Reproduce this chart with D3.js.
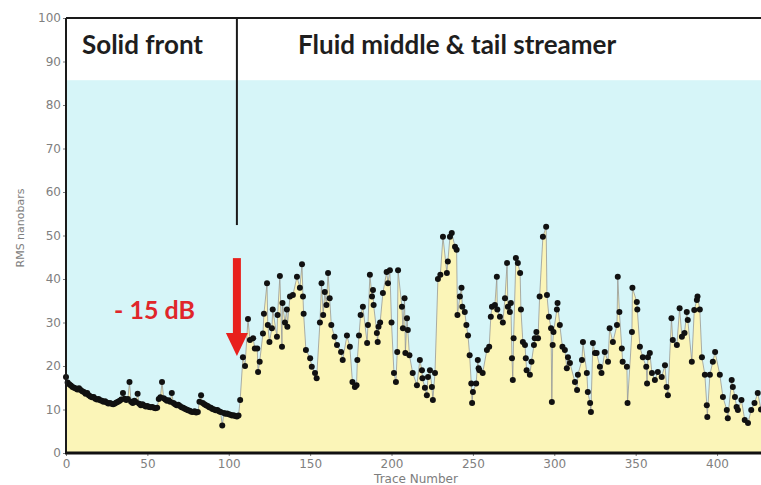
<!DOCTYPE html>
<html><head><meta charset="utf-8">
<script src="https://cdn.jsdelivr.net/npm/d3@7"></script>
<style>html,body{margin:0;padding:0;background:#fff;}svg{display:block;}</style>
</head><body>
<svg id="chart" width="761" height="485"></svg>
<script>
// ---- data ----
const solidRms = [17.5,16.2,15.8,15.5,15.2,15.0,14.8,14.6,14.9,14.5,
14.2,14.0,13.6,13.8,13.3,13.0,12.8,12.9,12.5,12.3,
12.4,12.1,12.0,11.8,11.9,11.6,11.4,11.5,11.3,11.2,
11.4,11.6,11.8,12.0,12.3,13.8,12.5,12.2,12.4,16.3,
11.8,11.5,12.0,11.7,13.6,11.3,11.0,11.2,10.9,10.7,
10.8,10.6,10.5,10.6,10.4,10.3,10.4,12.4,12.8,16.3,
12.6,12.3,12.0,12.1,11.8,13.8,11.5,11.2,11.0,11.1,
10.8,10.5,10.4,10.2,10.0,9.8,9.7,9.5,9.4,9.6,
9.3,9.4,11.8,13.3,11.5,11.2,11.0,10.8,10.5,10.4,
10.1,10.0,9.8,9.9,9.6,9.4,6.3,9.2,9.0,9.1,
8.9,8.8,8.6,8.7,8.5,8.4,8.6,12.2];

const fluidTrace = [108.7,110,111.8,113,115,116,117.5,118,119,121,121.6,123.5,124,125,126.5,127,129.6,130,131.4,132.7,
133,134.5,135.7,136,137.6,139.4,141.9,143.7,145,145.6,146,147.4,150,151,153,154,156,157,158,159,
160,161,162,163,165,166.5,169,170,172.6,174.4,176,177.5,178.5,179,180,181,182.4,185,185.5,186.7,
188,188.6,189,191,191.5,192,193,194.7,197,197.8,199,200,201.5,202.7,203.5,204,206.4,207,208,208.5,
209.5,210,211,213,215.6,217.4,218.7,219,220.5,221.7,222.4,223.6,224.8,225.4,226.7,228.5,230,231.6,234,234.6,
235.9,237,239,240,240.5,242,243,243.5,245,246,247,248,249,249.5,250,252,253,253.5,254,256,
258.6,260,261,261.7,263.5,264.7,265,266.6,268.4,269.7,271,271.5,272.7,273.3,274,274.5,275,276.4,277.6,279,
279.5,280.7,282,282.5,283,285,286,287.5,288,289,290,291,293,295,295.5,296.7,298,298.5,299,299.5,
301.6,302,303.4,305,306.5,307.7,308.4,309.6,312.7,314,314.5,317,317.6,320,320.6,322,322.5,323.7,325,326,
328,329,331,333,334,336,338.5,339,340,341.5,342,344.6,345,347.7,348,350.7,351,352.6,354.4,356.5,
357,357.5,358.7,360,361.8,363.6,366,368,369,369.8,372,372.8,375.3,377,378.4,380,381.4,382,384.5,386,
387.6,388,389.4,390.7,392.5,393.7,394,395.6,397.4,398.8,401.7,403.6,406,406.6,409,409.7,411,412,412.8,415,
417,419,421,423,425,427];

const fluidRms = [22,20,30.8,26,26.4,24,24,18.6,21,27.5,32,39,29.4,25.5,28.7,33,26.7,31.7,40.7,24.4,
34.5,30,33,29,36,36.3,40.5,38,43.4,36,32,23.7,21.8,19.8,18.4,17.2,30,39,31.7,37,
34,41.4,35.6,29.4,26.7,24.8,23.2,21.4,27,24.4,16.3,15.2,15.6,21.4,27,31.7,33.6,25.3,29.4,41,
36,37.5,34,27.6,25.5,29,30,36.8,41.6,39,42,30,18.4,16.3,23.2,42,33.6,28.7,35.6,23,
31,28.3,22.5,18.4,15.6,21.4,19,17.2,15,13.3,17.5,19,15.2,12.2,18.4,40,41,49.7,41.4,44,
49.7,50.6,47.4,46.7,31.7,36,38,33.6,32.4,29.4,27,22.5,16,11.5,14,16,21.4,19.5,19,18.4,
23.7,24.4,31.3,33.6,34,40.5,33,31.3,30,35.6,43.7,33.6,32.4,34.5,21.8,16.8,26.4,44.8,43.7,41.4,
33,25.5,24.8,21.8,19,18,21,24.8,26.4,27.8,26.4,36,49.7,52,36.3,31.3,28.7,11.7,24.8,27.8,
33,34.5,29.4,24.4,23.7,19.5,22,20.7,16.3,14.5,18,21.4,25.5,18.4,14,11.5,9.4,25.3,23,23,
19.8,18.4,23.2,21,28.7,25.5,29.4,40.5,32.4,24,21,19.8,11.5,27.8,38,34.7,33,24.4,22,19.8,
16,22,23,18.4,16.8,18.6,17.5,20.2,15.2,13.3,31,26,24.8,33.3,26.7,27.6,32.4,30.6,21,32.9,
35.2,36,33,22,18,11,8.3,18,21,23.2,18,12.9,9.9,8,16.8,15.2,12.9,10.6,9.9,12.2,
7.6,6.9,9.9,11.5,13.8,10];

const xTickValues = [0,50,100,150,200,250,300,350,400];
const yTickValues = [0,10,20,30,40,50,60,70,80,90,100];
const regionLabels = ["Solid front", "Fluid middle & tail streamer"];
const annotationText = "- 15 dB";
const xTitle = "Trace Number";
const yTitle = "RMS nanobars";
const dividerTrace = 105;      // boundary between regions
const dividerBottom = 52.4;    // where the divider line stops
const headerLevel = 85.7;      // top of the blue band
const arrowTop = 44.8, arrowTip = 22.3;

// ---- layout ----
const svg = d3.select("#chart");
const x = d3.scaleLinear().domain([0, 427]).range([66, 761]);
const y = d3.scaleLinear().domain([0, 100]).range([453, 18]);

const points = solidRms.map((v, i) => ({t: i, v}))
  .concat(fluidTrace.map((t, i) => ({t, v: fluidRms[i]})));

// blue band
svg.append("rect").attr("x", x(0)).attr("y", y(headerLevel))
  .attr("width", x(427) - x(0)).attr("height", y(0) - y(headerLevel))
  .attr("fill", "#d6f5f8");

// yellow area under the data
svg.append("path").datum(points)
  .attr("fill", "#fbf5b8")
  .attr("d", d3.area().x(d => x(d.t)).y0(y(0)).y1(d => y(d.v)));

// connecting line
svg.append("path").datum(points)
  .attr("fill", "none").attr("stroke", "#8c8c8c").attr("stroke-width", 0.7)
  .attr("d", d3.line().x(d => x(d.t)).y(d => y(d.v)));

// dots
svg.append("g").selectAll("circle").data(points).join("circle")
  .attr("cx", d => x(d.t)).attr("cy", d => y(d.v)).attr("r", 3)
  .attr("fill", "#111");

// axes
const axisColor = "#7a7a7a";
const yAxis = svg.append("g").attr("transform", `translate(${x(0)},0)`)
  .call(d3.axisLeft(y).tickValues(yTickValues).tickSize(3).tickPadding(2));
const xAxis = svg.append("g").attr("transform", `translate(0,${y(0)})`)
  .call(d3.axisBottom(x).tickValues(xTickValues).tickSize(3).tickPadding(3));
[xAxis, yAxis].forEach(g => {
  g.select(".domain").remove();
  g.selectAll(".tick line").attr("stroke", axisColor);
  g.selectAll(".tick text").attr("fill", "#808080")
    .style("font-family", "DejaVu Sans").style("font-size", "12px");
});

// frame lines
svg.append("line").attr("x1", x(0)).attr("x2", x(0)).attr("y1", y(100)).attr("y2", y(0))
  .attr("stroke", "#1a1a1a").attr("stroke-width", 2);
svg.append("line").attr("x1", x(0)).attr("x2", 761).attr("y1", y(100)).attr("y2", y(100))
  .attr("stroke", "#1a1a1a").attr("stroke-width", 2);
svg.append("line").attr("x1", x(0) - 1).attr("x2", 761).attr("y1", y(0)).attr("y2", y(0))
  .attr("stroke", "#111").attr("stroke-width", 3);

// divider
svg.append("line").attr("x1", x(dividerTrace)).attr("x2", x(dividerTrace))
  .attr("y1", y(100)).attr("y2", y(dividerBottom))
  .attr("stroke", "#1a1a1a").attr("stroke-width", 2);

// region labels
svg.append("text").attr("x", 82).attr("y", 54).text(regionLabels[0])
  .attr("fill", "#1e1e1e").style("font-family", "Lato").style("font-weight", "bold").style("font-size", "26px");
svg.append("text").attr("x", 298).attr("y", 54).text(regionLabels[1])
  .attr("fill", "#1e1e1e").style("font-family", "Lato").style("font-weight", "bold").style("font-size", "26px");

// red arrow
const red = "#e8201c";
const ax = x(dividerTrace);
const headTop = arrowTip + 5.3;
svg.append("rect").attr("x", ax - 4).attr("y", y(arrowTop)).attr("width", 8)
  .attr("height", y(headTop) - y(arrowTop) + 1).attr("fill", red);
svg.append("path").attr("fill", red)
  .attr("d", `M${ax - 11},${y(headTop)} L${ax + 11},${y(headTop)} L${ax},${y(arrowTip)} Z`);
svg.append("text").attr("x", 114).attr("y", 319).text(annotationText)
  .attr("fill", "#e0262a").style("font-family", "Lato").style("font-weight", "bold").style("font-size", "25px");

// axis titles
svg.append("text").attr("x", 416).attr("y", 483).attr("text-anchor", "middle").text(xTitle)
  .attr("fill", "#7d7d7d").style("font-family", "DejaVu Sans").style("font-size", "12px");
svg.append("text").attr("transform", "translate(24,228) rotate(-90)").attr("text-anchor", "middle").text(yTitle)
  .attr("fill", "#7d7d7d").style("font-family", "DejaVu Sans").style("font-size", "11px");
</script>
</body></html>
